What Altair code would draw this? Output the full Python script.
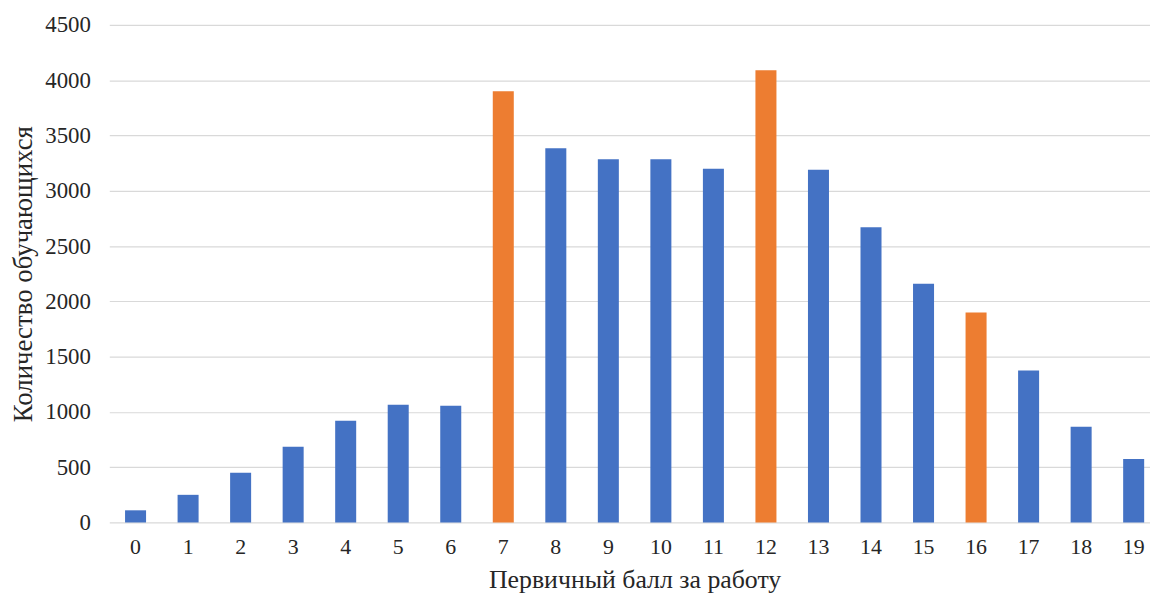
import altair as alt
import pandas as pd

scores = [str(i) for i in range(20)]
counts = [110, 250, 450, 685, 920, 1065, 1055, 3900, 3385, 3285,
          3285, 3200, 4090, 3190, 2670, 2160, 1900, 1375, 865, 575]
highlight_scores = ["7", "12", "16"]
groups = ["выделено" if s in highlight_scores else "обычный" for s in scores]

df = pd.DataFrame({"score": scores, "count": counts, "group": groups})

FONT = "Liberation Serif, Times New Roman, serif"
TXT = "#262626"

chart = alt.Chart(df).mark_bar().encode(
    x=alt.X("score:N", sort=scores,
            scale=alt.Scale(range=[0, 1058], paddingInner=0.6, paddingOuter=0.3),
            axis=alt.Axis(title="Первичный балл за работу", labelAngle=0,
                          ticks=False, domain=False, labelPadding=14,
                          titlePadding=9, labelFont=FONT, titleFont=FONT,
                          labelFontSize=22, titleFontSize=26,
                          labelColor=TXT, titleColor=TXT, titleFontWeight="normal")),
    y=alt.Y("count:Q", scale=alt.Scale(domain=[0, 4500], nice=False),
            axis=alt.Axis(title="Количество обучающихся", values=list(range(0, 4501, 500)),
                          format="d", ticks=False, domain=False, labelPadding=19,
                          titlePadding=7, gridColor="#d9d9d9", gridWidth=1.2,
                          labelFont=FONT, titleFont=FONT,
                          labelFontSize=23, titleFontSize=27,
                          labelColor=TXT, titleColor=TXT, titleFontWeight="normal")),
    color=alt.Color("group:N", scale=alt.Scale(domain=["обычный", "выделено"],
                                               range=["#4472C4", "#ED7D31"]),
                    legend=None),
).properties(
    width=1048, height=501,
    autosize=alt.AutoSizeParams(type="none"),
    padding={"left": 102, "top": 15, "right": 0, "bottom": 76},
).configure_view(stroke=None)

chart.save("out.html", embed_options={"renderer": "svg", "actions": False})
